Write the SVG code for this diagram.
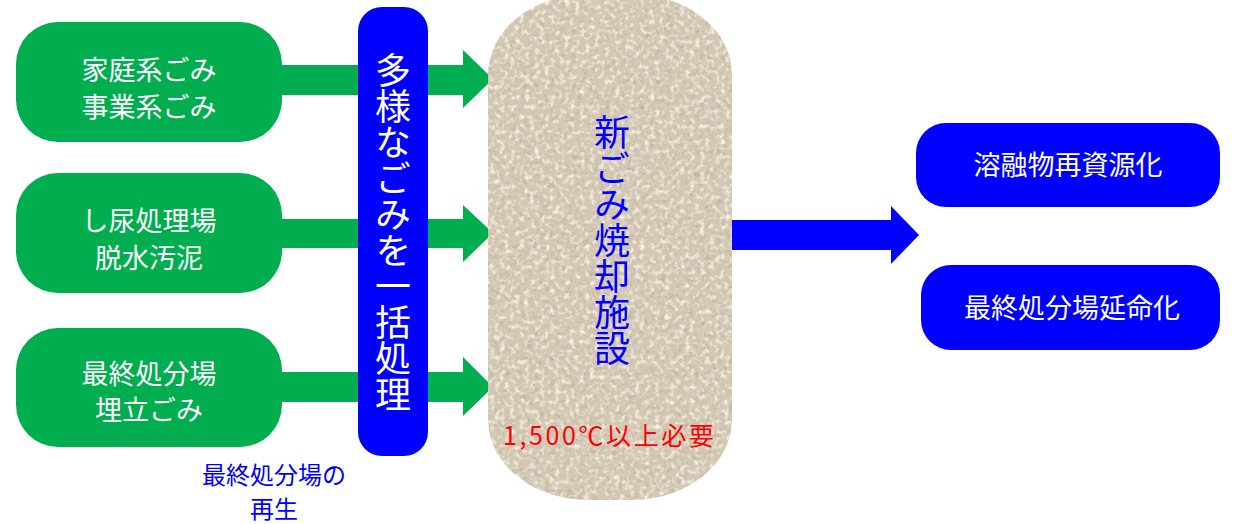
<svg xmlns="http://www.w3.org/2000/svg" width="1236" height="524" viewBox="0 0 1236 524">
<style>
text{font-family:"Noto Sans CJK JP","Liberation Serif",serif;}
.green{fill:#00AE50;}
.blue{fill:#0000FF;}
.wt{fill:#FFFFFF;font-size:27px;text-anchor:middle;}
.bt{fill:#0000FF;text-anchor:middle;}
.vert{writing-mode:tb;text-anchor:middle;font-size:36px;}
</style>
<defs>
<filter id="granite" x="0" y="0" width="100%" height="100%">
<feTurbulence type="fractalNoise" baseFrequency="0.18" numOctaves="3" seed="7" result="n"/>
<feColorMatrix in="n" type="matrix" values="0 0 0 0 0.50  0 0 0 0 0.45  0 0 0 0 0.38  2.6 0 0 0 -1.3" result="dark"/>
<feTurbulence type="fractalNoise" baseFrequency="0.2" numOctaves="2" seed="19" result="n2"/>
<feColorMatrix in="n2" type="matrix" values="0 0 0 0 0.97  0 0 0 0 0.92  0 0 0 0 0.83  2.6 0 0 0 -1.25" result="light"/>
<feMerge result="m"><feMergeNode in="SourceGraphic"/><feMergeNode in="dark"/><feMergeNode in="light"/></feMerge>
<feComposite in="m" in2="SourceGraphic" operator="in"/>
</filter>
</defs>

<g id="connectors">
<polygon class="green" points="282,65 463,65 463,50 493,79 463,108 463,95 282,95"/>
<polygon class="green" points="282,219 463,219 463,205 493,233 463,262 463,248 282,248"/>
<polygon class="green" points="282,372 463,372 463,357 493,387 463,416 463,402 282,402"/>
<polygon class="blue" points="729,220 891,220 891,206 919,235 891,264 891,250 729,250"/>
</g>

<g id="src1">
<rect class="green" x="16" y="22" width="266" height="120" rx="42" ry="42"/>
<text class="wt" x="149" y="80">家庭系ごみ</text>
<text class="wt" x="149" y="117">事業系ごみ</text>
</g>
<g id="src2">
<rect class="green" x="16" y="173" width="266" height="120" rx="42" ry="42"/>
<text class="wt" x="149" y="231">し尿処理場</text>
<text class="wt" x="149" y="268">脱水汚泥</text>
</g>
<g id="src3">
<rect class="green" x="16" y="328" width="266" height="119" rx="42" ry="42"/>
<text class="wt" x="149" y="384">最終処分場</text>
<text class="wt" x="149" y="420">埋立ごみ</text>
</g>

<g id="batch">
<rect class="blue" x="358" y="7" width="70" height="449" rx="24" ry="24"/>
<text class="vert" x="393" y="232" fill="#FFFFFF">多様なごみを一括処理</text>
</g>

<g id="facility">
<rect x="488" y="-6" width="244" height="506" rx="100" ry="80" fill="#d4c8b3" filter="url(#granite)"/>
<text class="vert" x="612" y="240" fill="#0000FF">新ごみ焼却施設</text>
<text x="503" y="445" fill="#FF0000" font-size="25" letter-spacing="2.6">1,500℃以上必要</text>
</g>

<g id="out1">
<rect class="blue" x="916" y="123" width="304" height="84" rx="30" ry="30"/>
<text class="wt" x="1068" y="175">溶融物再資源化</text>
</g>
<g id="out2">
<rect class="blue" x="921" y="265" width="299" height="85" rx="30" ry="30"/>
<text class="wt" x="1072" y="318">最終処分場延命化</text>
</g>

<g id="note">
<text class="bt" x="274" y="484" font-size="24">最終処分場の</text>
<text class="bt" x="274" y="518" font-size="24">再生</text>
</g>
</svg>
